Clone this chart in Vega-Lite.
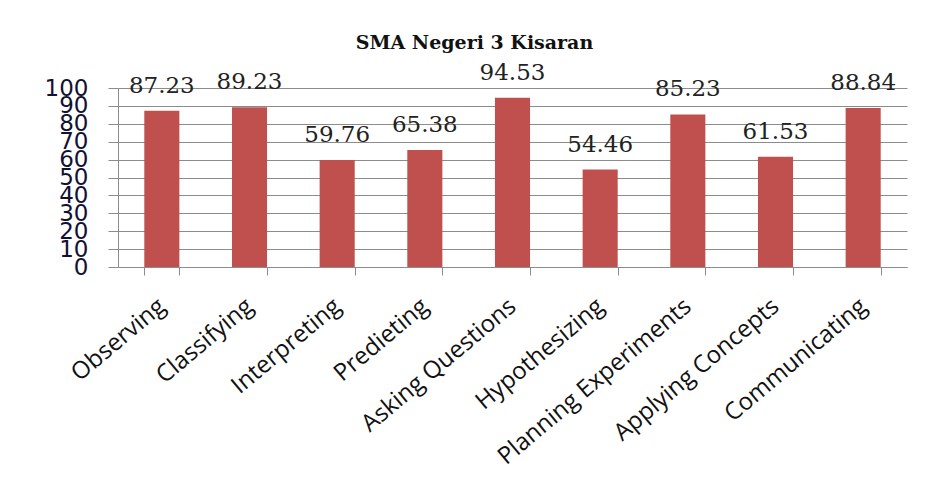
{
  "$schema": "https://vega.github.io/schema/vega-lite/v6.json",
  "autosize": "none",
  "width": 789,
  "height": 179,
  "padding": {"left": 118, "top": 88, "right": 22, "bottom": 234},
  "background": "white",
  "title": {
    "text": "SMA Negeri 3 Kisaran",
    "font": "DejaVu Serif",
    "fontSize": 19,
    "fontWeight": "bold",
    "color": "#111111",
    "anchor": "middle",
    "dx": -38,
    "offset": 9
  },
  "data": {
    "values": [
      {"skill": "Observing", "score": 87.23},
      {"skill": "Classifying", "score": 89.23},
      {"skill": "Interpreting", "score": 59.76},
      {"skill": "Predieting", "score": 65.38},
      {"skill": "Asking Questions", "score": 94.53},
      {"skill": "Hypothesizing", "score": 54.46},
      {"skill": "Planning Experiments", "score": 85.23},
      {"skill": "Applying Concepts", "score": 61.53},
      {"skill": "Communicating", "score": 88.84}
    ]
  },
  "encoding": {
    "x": {
      "field": "skill",
      "type": "nominal",
      "sort": null,
      "scale": {"paddingInner": 0.6, "paddingOuter": 0.3},
      "axis": {
        "title": null,
        "labelAngle": -40,
        "labelAlign": "right",
        "labelBaseline": "middle",
        "labelFont": "Open Sans",
        "labelFontSize": 24,
        "labelColor": "#111111",
        "labelPadding": 28,
        "labelDx": 5,
        "labelLimit": 0,
        "tickSize": 8,
        "tickBand": "extent",
        "tickColor": "#8c8c8c",
        "domainColor": "#8c8c8c",
        "grid": false
      }
    },
    "y": {
      "field": "score",
      "type": "quantitative",
      "scale": {"domain": [0, 100]},
      "axis": {
        "title": null,
        "values": [0, 10, 20, 30, 40, 50, 60, 70, 80, 90, 100],
        "labelFont": "DejaVu Sans",
        "labelFontSize": 23,
        "labelColor": "#111133",
        "labelOverlap": false,
        "labelFlush": false,
        "labelBound": false,
        "labelPadding": 20,
        "tickSize": 10,
        "tickColor": "#8c8c8c",
        "domainColor": "#8c8c8c",
        "grid": true,
        "gridColor": "#8c8c8c",
        "gridWidth": 1
      }
    }
  },
  "layer": [
    {"mark": {"type": "bar", "color": "#C0504D"}},
    {
      "mark": {
        "type": "text",
        "font": "DejaVu Serif",
        "fontSize": 23,
        "baseline": "alphabetic",
        "dy": -18,
        "color": "#222222"
      },
      "encoding": {
        "text": {"field": "score", "type": "quantitative", "format": ".2f"}
      }
    }
  ],
  "config": {
    "view": {"stroke": null}
  }
}
